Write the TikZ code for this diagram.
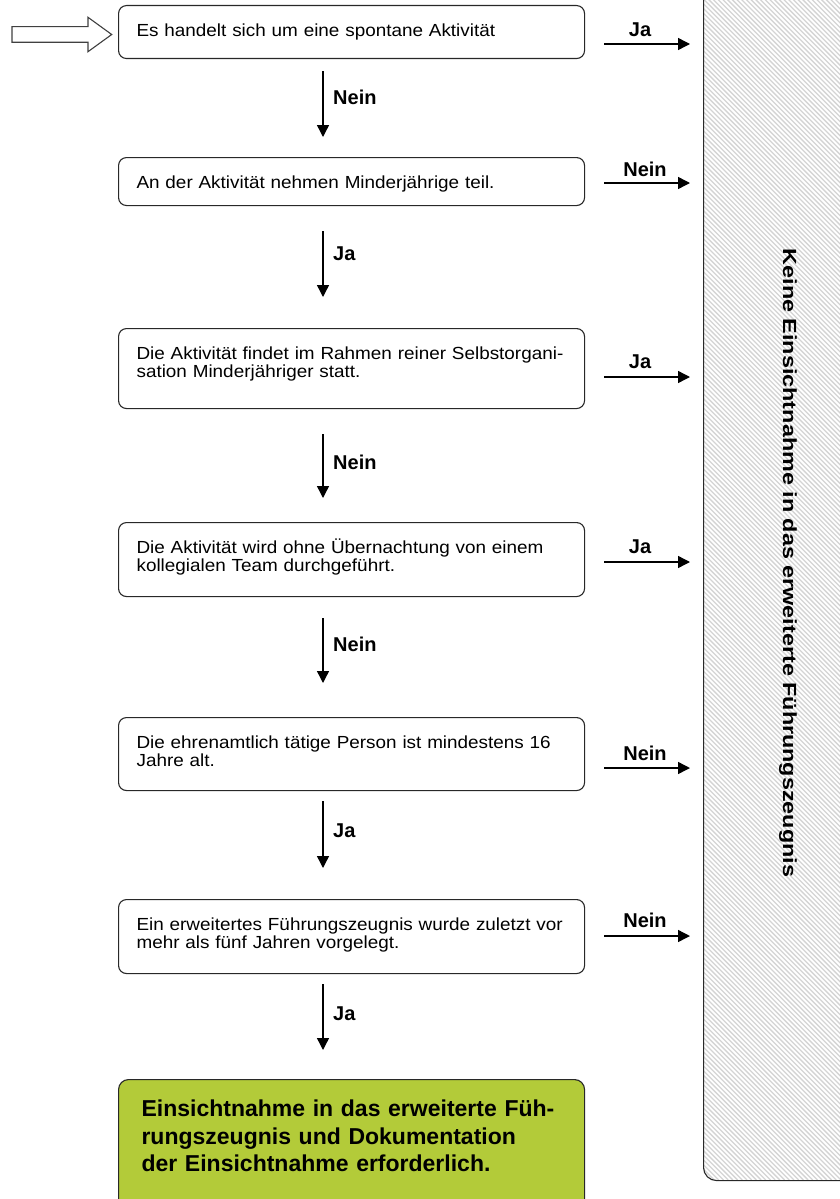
\documentclass[tikz,border=0pt]{standalone}
\usepackage{fontspec}
\setmainfont{Liberation Sans}
\newfontfamily\bodyfont{Liberation Sans}[FakeStretch=1.08]
\usetikzlibrary{arrows.meta}
\definecolor{okgreen}{RGB}{179,203,57}
\definecolor{edgegray}{RGB}{40,40,40}
\tikzset{
  box/.style={draw=edgegray, line width=1.1pt, rounded corners=8pt, anchor=north west,
    text width=430pt, inner xsep=18pt, inner ysep=0pt, align=left,
    font=\bodyfont\fontsize{17.5}{18.3}\selectfont, text height=31pt},
  finalbox/.style={draw=edgegray, line width=1.1pt, rounded corners=10pt, anchor=north west,
    fill=okgreen, text width=420pt, inner xsep=23pt, inner ysep=0pt, align=left,
    font=\bfseries\fontsize{23}{27.5}\selectfont, text height=37pt},
  arr/.style={line width=1.4pt, -{Triangle[length=12pt,width=12pt]}},
  lab/.style={font=\bfseries\fontsize{20}{22}\selectfont, inner sep=0pt},
  hatch/.style={line width=1.3pt, black!17},
  panel/.style={draw=edgegray, line width=1.1pt, rounded corners=13pt, anchor=north west,
    minimum width=170pt, minimum height=1200pt, inner sep=0pt},
  hollow/.style={draw=black!75, line width=1.1pt, fill=white}
}
\begin{document}
\begin{tikzpicture}[x=1pt, y=-1pt]
\useasboundingbox (0,0) rectangle (840,1199);

% right panel with hatching
\begin{scope}
  \clip[rounded corners=13pt] (703,-20) rectangle (873,1180);
  \foreach \c in {-480,-475.3,...,895} \draw[hatch] (\c-20,-20) -- (\c+1180,1180);
\end{scope}
\node[panel] (panel) at (703,-20) {};
\node[rotate=-90, font=\bfseries\fontsize{19}{21}\selectfont, inner sep=0pt] (ptext) at (788,563)
  {\scalebox{1.23}[1]{Keine Einsichtnahme in das erweiterte Führungszeugnis}};

% entry arrow
\draw[hollow] (12,26.7) -- (88,26.7) -- (88,17.3) -- (111.7,34.5) -- (88,51.7) -- (88,42.3) -- (12,42.3) -- cycle;

% decision boxes
\node[box, text depth=22pt] (b1) at (118,5) {Es handelt sich um eine spontane Aktivität};
\node[box, text depth=17pt] (b2) at (118,157) {An der Aktivität nehmen Minderjährige teil.};
\node[box, text depth=49pt] (b3) at (118,328) {Die Aktivität findet im Rahmen reiner Selbstorgani-\\sation Minderjähriger statt.};
\node[box, text depth=43pt] (b4) at (118,522) {Die Aktivität wird ohne Übernachtung von einem\\kollegialen Team durchgeführt.};
\node[box, text depth=42pt] (b5) at (118,717) {Die ehrenamtlich tätige Person ist mindestens 16\\Jahre alt.};
\node[box, text depth=43pt] (b6) at (118,899) {Ein erweitertes Führungszeugnis wurde zuletzt vor\\mehr als fünf Jahren vorgelegt.};
\node[finalbox, text depth=96pt] (fin) at (118,1079) {Einsichtnahme in das erweiterte Füh-\\rungszeugnis und Dokumentation\\der Einsichtnahme erforderlich.};

% down arrows
\coordinate (ax) at (323,0);
\draw[arr, shorten <=12pt, shorten >=20pt] (b1.south -| ax) -- (b2.north -| ax);
\draw[arr, shorten <=25pt, shorten >=31pt] (b2.south -| ax) -- (b3.north -| ax);
\draw[arr, shorten <=25pt, shorten >=24pt] (b3.south -| ax) -- (b4.north -| ax);
\draw[arr, shorten <=21pt, shorten >=34pt] (b4.south -| ax) -- (b5.north -| ax);
\draw[arr, shorten <=10pt, shorten >=31pt] (b5.south -| ax) -- (b6.north -| ax);
\draw[arr, shorten <=10pt, shorten >=29pt] (b6.south -| ax) -- (fin.north -| ax);

\node[lab, anchor=west] (l1) at (333,97) {Nein};
\node[lab, anchor=west] (l2) at (333,254) {Ja};
\node[lab, anchor=west] (l3) at (333,462) {Nein};
\node[lab, anchor=west] (l4) at (333,644) {Nein};
\node[lab, anchor=west] (l5) at (333,831) {Ja};
\node[lab, anchor=west] (l6) at (333,1014) {Ja};

% right arrows
\coordinate (r1) at (0,44);
\coordinate (r2) at (0,183);
\coordinate (r3) at (0,377);
\coordinate (r4) at (0,562);
\coordinate (r5) at (0,768);
\coordinate (r6) at (0,936);
\foreach \i in {1,...,6}
  \draw[arr] ([xshift=19pt]b\i.east |- r\i) -- ([xshift=-13pt]panel.west |- r\i);

\node[lab] (m1) at (640,30) {Ja};
\node[lab] (m2) at (645,169) {Nein};
\node[lab] (m3) at (640,362) {Ja};
\node[lab] (m4) at (640,547) {Ja};
\node[lab] (m5) at (645,753) {Nein};
\node[lab] (m6) at (645,920) {Nein};
\end{tikzpicture}
\end{document}
